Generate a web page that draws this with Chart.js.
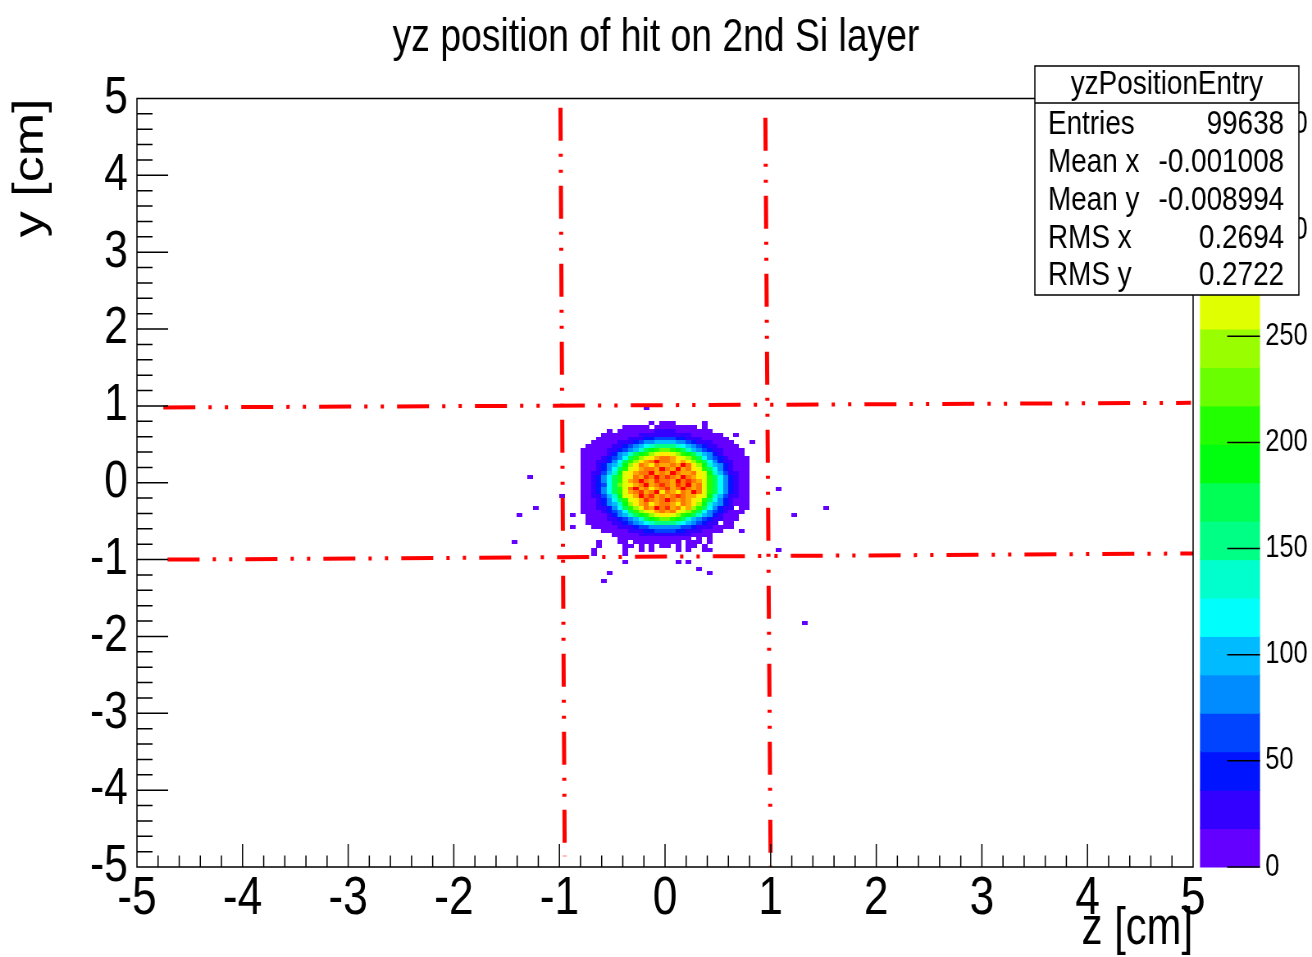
<!DOCTYPE html>
<html lang="en">
<head>
<meta charset="utf-8">
<title>yz position of hit on 2nd Si layer</title>
<script src="https://cdn.jsdelivr.net/npm/chart.js@4.4.1/dist/chart.umd.min.js"></script>
<style>
    html, body { margin: 0; padding: 0; background: #fff; overflow: hidden; }
    /* drawn 1600 px wide, then squeezed into the 1312 px page like the ROOT export */
    #wrap { width: 1600px; height: 957px; transform: scaleX(0.82); transform-origin: 0 0; }
</style>
</head>
<body>
<div id="wrap"><canvas id="yzPosition" width="1600" height="957"></canvas></div>
<script>
    // binning of the 2D histogram (cm)
    const binWidth = 0.05
    const gridZ0 = -0.85   // left edge of the first column
    const gridY0 = 0.80    // top edge of the first row

    // bin contents as colour band: '.' = empty, '0'-'9','a'-'j' = band 0..19
    const gridRows = [
        "..............0.0" + "00.....0.........",
        ".........00000.00" + "000000.0.........",
        "......0.000000011" + "110000000........",
        ".....000000011111" + "11111000000..0...",
        "....0000001112233" + "332211100000.....",
        "...00000111234455" + "5544321110000...0",
        "..000001123456788" + "88765432110000...",
        ".0000011234579abc" + "cba975432110000..",
        ".00000124579abdef" + "fedba9754210000..",
        ".0000123469bdefgh" + "hgfedb9643210000.",
        ".000112469bdfghjh" + "hgfgfdb964211000.",
        ".00012457adfhgfhg" + "ghgjhfda75421000.",
        ".00012469befghhgj" + "hgjghfeb96421000.",
        ".0011357aefghhjgh" + "gjhgghfea7531100.",
        ".0012469befhgihjh" + "ihgjhgfeb9642100.",
        ".0012469beghjhgih" + "hgjhihgeb9642100.",
        ".0012369cefghjghi" + "hgihjgheb9642100.",
        ".0012469behjghfgh" + "ighjhgheb9642100.",
        ".0012469beghighjf" + "hgfhgjheb9642100.",
        ".0011357aefgjhigh" + "ghihggfea7531100.",
        ".00012469befgihgh" + "jhghgfeb96421000.",
        ".00012457adfghfgh" + "hgfhgfda75421000.",
        ".000112469bdfhgjh" + "ighfgdb964211.00.",
        ".0000123469bdefgh" + "ghfedb964321000..",
        "..0000124579abdef" + "fedba975421000...",
        "..000011234579abc" + "cba97543211000...",
        "..000001123456788" + "8876543211.00....",
        "...00000111233444" + "4443321110000....",
        ".....000001112233" + "33221110000...0..",
        ".......0000011111" + "111110000........",
        "........000000000" + "00000.0.0........",
        "....0...00.000000" + "000.000.0........",
        "....0....00.0.0.0" + "0.0.00.0.........",
        "...0.....0..0.0.." + "..0.0..00........"
    ]

    // single hits away from the spot (bin centres)
    const strayZ = [-1.275, -1.225, -1.375, -1.425, -0.975, -0.875, -0.875, -0.675, -0.375, -0.375, -0.525,
                    -0.575, -0.175, 0.125, 0.225, 0.325, 0.425, 1.075, 1.225, 1.525, 1.075, 1.325]
    const strayY = [0.075, -0.325, -0.425, -0.775, -0.175, -0.425, -0.575, -0.925, -0.925, -1.025, -1.175,
                    -1.275, 0.975, -1.025, -1.025, -1.125, -1.175, -0.075, -0.425, -0.325, -0.875, -1.825]

    const axisTicks = [-5, -4, -3, -2, -1, 0, 1, 2, 3, 4, 5]
    const zTicks = [0, 50, 100, 150, 200, 250, 300, 350]
    const zMax = 362
    const nLevels = 20

    // silicon window edges, as drawn
    const lineLeft = [[-0.99, 4.88], [-0.95, -4.86]]
    const lineRight = [[0.95, 4.75], [1.0, -4.99]]
    const lineTop = [[-4.75, 0.98], [4.98, 1.04]]
    const lineBottom = [[-4.71, -1.0], [5.0, -0.92]]

    const histName = 'yzPositionEntry'
    const statNames = ['Entries', 'Mean x', 'Mean y', 'RMS x', 'RMS y']
    const statValues = ['99638', '-0.001008', '-0.008994', '0.2694', '0.2722']

    const zStep = zMax / nLevels
    const fontFamily = "'Liberation Sans', Arial, sans-serif"

    // ROOT pretty palette: 50 hues violet -> red, 20 contour levels pick from it
    const levelColors = []
    for (let i = 0; i < nLevels; i++) {
        const idx = Math.floor((i + 0.99) * 50 / nLevels)
        const hue = 280 - (idx + 1) * 5.6
        levelColors.push(`hsl(${hue.toFixed(1)}, 100%, 50%)`)
    }

    const cells = []
    gridRows.forEach((row, r) => {
        for (let c = 0; c < row.length; c++) {
            if (row[c] === '.') continue
            const band = parseInt(row[c], 20)
            cells.push({
                x: gridZ0 + binWidth * (c + 0.5),
                y: gridY0 - binWidth * (r + 0.5),
                v: (band + 0.5) * zStep
            })
        }
    })
    strayZ.forEach((z, i) => cells.push({ x: z, y: strayY[i], v: 1 }))

    // one small filled canvas per band, sized to a bin on the current scales
    const cellImages = {}
    const cellStyle = (c) => {
        if (!c.raw) return 'rect'
        const { x, y } = c.chart.scales
        const w = Math.ceil(Math.abs(x.getPixelForValue(binWidth) - x.getPixelForValue(0)))
        const h = Math.ceil(Math.abs(y.getPixelForValue(0) - y.getPixelForValue(binWidth)))
        const level = Math.min(nLevels - 1, Math.floor(c.raw.v / zStep))
        const key = level + ':' + w + 'x' + h
        if (!cellImages[key]) {
            const img = document.createElement('canvas')
            img.width = w
            img.height = h
            const g = img.getContext('2d')
            g.fillStyle = levelColors[level]
            g.fillRect(0, 0, w, h)
            cellImages[key] = img
        }
        return cellImages[key]
    }

    const lineSet = (pts, dash, width) => ({
        type: 'line',
        data: pts.map(p => ({ x: p[0], y: p[1] })),
        borderColor: '#ff0000',
        borderWidth: width,
        borderDash: dash,
        borderCapStyle: 'butt',
        pointRadius: 0,
        fill: false,
        order: 0
    })
    const vDash = [33, 13, 3, 13, 3, 13]
    const hDash = [39, 16, 4, 16, 4, 16]

    // frame, inward ticks and colour palette the way ROOT draws them
    const rootFrame = {
        id: 'rootFrame',
        afterDatasetsDraw(chart) {
            const { ctx, chartArea: a } = chart
            const { x, y, z } = chart.scales
            ctx.save()

            const p0 = a.right + 8.4
            const p1 = a.right + 81.6
            levelColors.forEach((col, i) => {
                const top = z.getPixelForValue((i + 1) * zStep)
                const bottom = z.getPixelForValue(i * zStep)
                ctx.fillStyle = col
                ctx.fillRect(p0, top - 0.5, p1 - p0, bottom - top + 1)
            })

            ctx.strokeStyle = '#000'
            ctx.lineWidth = 1.5
            ctx.beginPath()
            zTicks.forEach(v => {
                const py = z.getPixelForValue(v)
                ctx.moveTo(p1 - 40, py)
                ctx.lineTo(p1, py)
            })

            ctx.rect(a.left, a.top, a.right - a.left, a.bottom - a.top)

            for (let i = 0; i < axisTicks.length; i++) {
                const v = axisTicks[i]
                const px = x.getPixelForValue(v)
                const py = y.getPixelForValue(v)
                ctx.moveTo(px, a.bottom); ctx.lineTo(px, a.bottom - 23)
                ctx.moveTo(a.left, py); ctx.lineTo(a.left + 38, py)
                if (i === axisTicks.length - 1) break
                const step = (axisTicks[i + 1] - v) / 5
                for (let k = 1; k < 5; k++) {
                    const mx = x.getPixelForValue(v + k * step)
                    const my = y.getPixelForValue(v + k * step)
                    ctx.moveTo(mx, a.bottom); ctx.lineTo(mx, a.bottom - 11.5)
                    ctx.moveTo(a.left, my); ctx.lineTo(a.left + 19, my)
                }
            }
            ctx.stroke()
            ctx.restore()
        },
        afterDraw(chart) {
            const { ctx } = chart
            const bx = 1262, by = 66, bw = 322, bh = 229, head = 37
            ctx.save()
            ctx.fillStyle = '#fff'
            ctx.fillRect(bx, by, bw, bh)
            ctx.strokeStyle = '#000'
            ctx.lineWidth = 1.5
            ctx.strokeRect(bx, by, bw, bh)
            ctx.beginPath()
            ctx.moveTo(bx, by + head)
            ctx.lineTo(bx + bw, by + head)
            ctx.stroke()

            ctx.fillStyle = '#000'
            ctx.font = '34px ' + fontFamily
            ctx.textBaseline = 'middle'
            ctx.textAlign = 'center'
            ctx.fillText(histName, bx + bw / 2, by + 19)
            statNames.forEach((name, i) => {
                const ty = 125 + i * 37.75
                ctx.textAlign = 'left'
                ctx.fillText(name, bx + 16, ty)
                ctx.textAlign = 'right'
                ctx.fillText(statValues[i], bx + bw - 18, ty)
            })
            ctx.restore()
        }
    }

    Chart.defaults.font.family = fontFamily
    Chart.defaults.color = '#000'

    new Chart(document.getElementById('yzPosition'), {
        type: 'scatter',
        data: {
            datasets: [
                { data: cells, pointStyle: cellStyle, pointRadius: 1, order: 1 },
                lineSet(lineLeft, vDash, 5),
                lineSet(lineRight, vDash, 5),
                lineSet(lineTop, hDash, 4),
                lineSet(lineBottom, hDash, 4)
            ]
        },
        options: {
            responsive: false,
            animation: false,
            devicePixelRatio: 1,
            events: [],
            layout: { padding: 0 },
            plugins: {
                legend: { display: false },
                tooltip: { enabled: false },
                title: {
                    display: true,
                    text: 'yz position of hit on 2nd Si layer',
                    color: '#000',
                    font: { size: 45.5, weight: 'normal' },
                    padding: { top: 11, bottom: 32.9 }
                }
            },
            scales: {
                x: {
                    type: 'linear', min: -5, max: 5,
                    grid: { display: false, drawTicks: false },
                    border: { display: false },
                    ticks: { stepSize: 1, font: { size: 54 }, padding: 0, maxRotation: 0, autoSkip: false },
                    title: { display: true, text: 'z [cm]', align: 'end', font: { size: 51, lineHeight: 1 }, padding: { top: 0, bottom: 1.5 } },
                    afterFit: s => { s.height = 90 }
                },
                y: {
                    type: 'linear', min: -5, max: 5,
                    grid: { display: false, drawTicks: false },
                    border: { display: false },
                    ticks: { stepSize: 1, font: { size: 52 }, padding: 11, autoSkip: false },
                    title: { display: true, text: 'y [cm]', align: 'end', font: { size: 52, lineHeight: 1 }, padding: { top: 12, bottom: 0 } },
                    afterFit: s => { s.width = 167 }
                },
                z: {
                    type: 'linear', axis: 'y', position: 'right', min: 0, max: zMax,
                    // invisible tick marks push the labels past the palette
                    grid: { display: false, drawTicks: true, tickLength: 86 },
                    border: { display: false },
                    ticks: { font: { size: 31 }, padding: 2, autoSkip: false },
                    afterBuildTicks: s => { s.ticks = zTicks.map(v => ({ value: v })) },
                    afterFit: s => { s.width = 145 }
                }
            }
        },
        plugins: [rootFrame]
    })
</script>
</body>
</html>
